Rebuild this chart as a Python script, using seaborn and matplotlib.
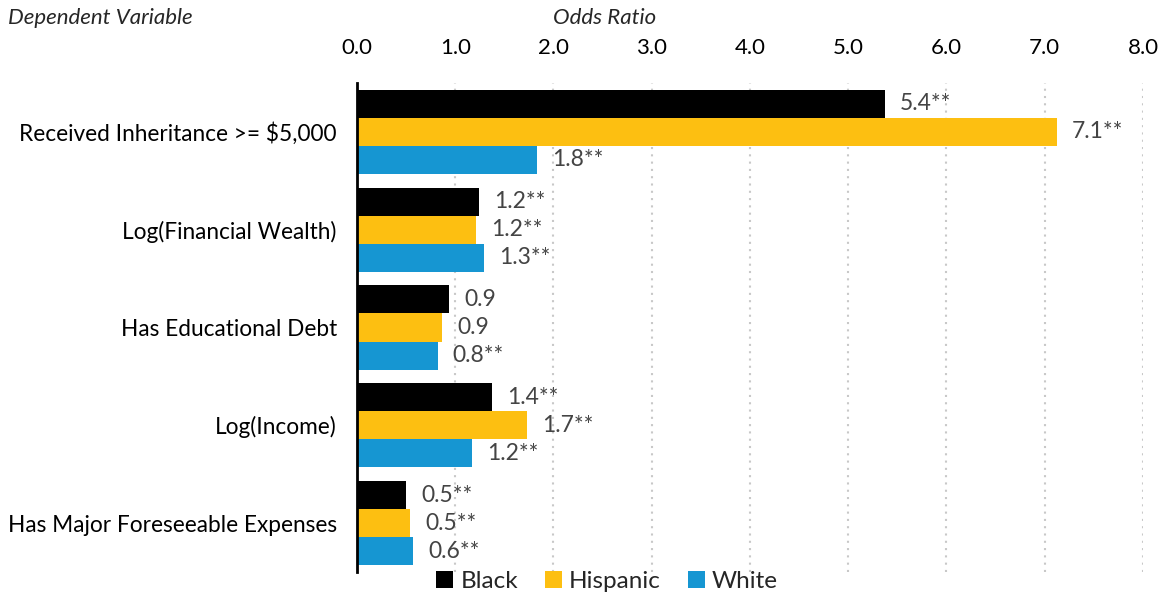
import matplotlib
matplotlib.use("Agg")

import matplotlib.pyplot as plt
import pandas as pd
import seaborn as sns

# ── Data ───────────────────────────────────────────────────────────────
variables = [
    "Received Inheritance >= $5,000",
    "Log(Financial Wealth)",
    "Has Educational Debt",
    "Log(Income)",
    "Has Major Foreseeable Expenses",
]
groups = ["Black", "Hispanic", "White"]
black = [5.37, 1.24, 0.94, 1.37, 0.50]
hispanic = [7.12, 1.21, 0.87, 1.73, 0.54]
white = [1.83, 1.29, 0.82, 1.17, 0.57]
black_sig = ["**", "**", "", "**", "**"]
hispanic_sig = ["**", "**", "", "**", "**"]
white_sig = ["**", "**", "**", "**", "**"]
colors = ["#000000", "#fdbf11", "#1696d2"]
x_ticks = [0, 1, 2, 3, 4, 5, 6, 7, 8]

df = pd.DataFrame({
    "variable": variables * 3,
    "group": [g for g in groups for _ in variables],
    "value": black + hispanic + white,
})
sig = {"Black": black_sig, "Hispanic": hispanic_sig, "White": white_sig}

# ── Plot ───────────────────────────────────────────────────────────────
sns.set_style("white")
plt.rcParams["font.family"] = ["Lato", "DejaVu Sans"]

fig = plt.figure(figsize=(11.65, 5.97), dpi=100)
ax = fig.add_axes([0.3064, 0.0419, 0.6747, 0.8191])

sns.barplot(
    data=df, y="variable", x="value", hue="group", order=variables,
    hue_order=groups, palette=colors, saturation=1, width=0.86,
    orient="h", linewidth=0, ax=ax,
)

for container, g in zip(ax.containers, groups):
    vals = df.loc[df["group"] == g, "value"].tolist()
    labels = [f"{v:.1f}{s}" for v, s in zip(vals, sig[g])]
    ax.bar_label(container, labels=labels, padding=11, fontsize=16.5, color="#444444")

ax.set_xlim(0, 8)
ax.set_xticks(x_ticks)
ax.set_xticklabels([f"{t:.1f}" for t in x_ticks])
ax.xaxis.tick_top()
ax.tick_params(axis="x", length=0, pad=18, labelsize=16, labelcolor="#000000")
ax.tick_params(axis="y", length=0, pad=14.5, labelsize=16.3, labelcolor="#000000")
ax.set_xlabel("")
ax.set_ylabel("")
ax.grid(axis="x", linestyle=(0, (1, 2.5)), color="#c8c8c8", linewidth=1.5)
ax.set_axisbelow(True)

for side in ["top", "right", "bottom"]:
    ax.spines[side].set_visible(False)
ax.spines["left"].set_color("#000000")
ax.spines["left"].set_linewidth(2)

sns.move_legend(
    ax, "center", bbox_to_anchor=(0.318, -0.02), ncol=3, title=None,
    frameon=False, fontsize=17.5, handlelength=0.7, handleheight=0.7,
    handletextpad=0.3, columnspacing=1.1,
)

fig.text(0.007, 0.97, "Dependent Variable", fontsize=16, fontstyle="italic",
         ha="left", va="center")
fig.text(0.519, 0.97, "Odds Ratio", fontsize=16, fontstyle="italic",
         ha="center", va="center")

fig.savefig("out.png", dpi=100)
